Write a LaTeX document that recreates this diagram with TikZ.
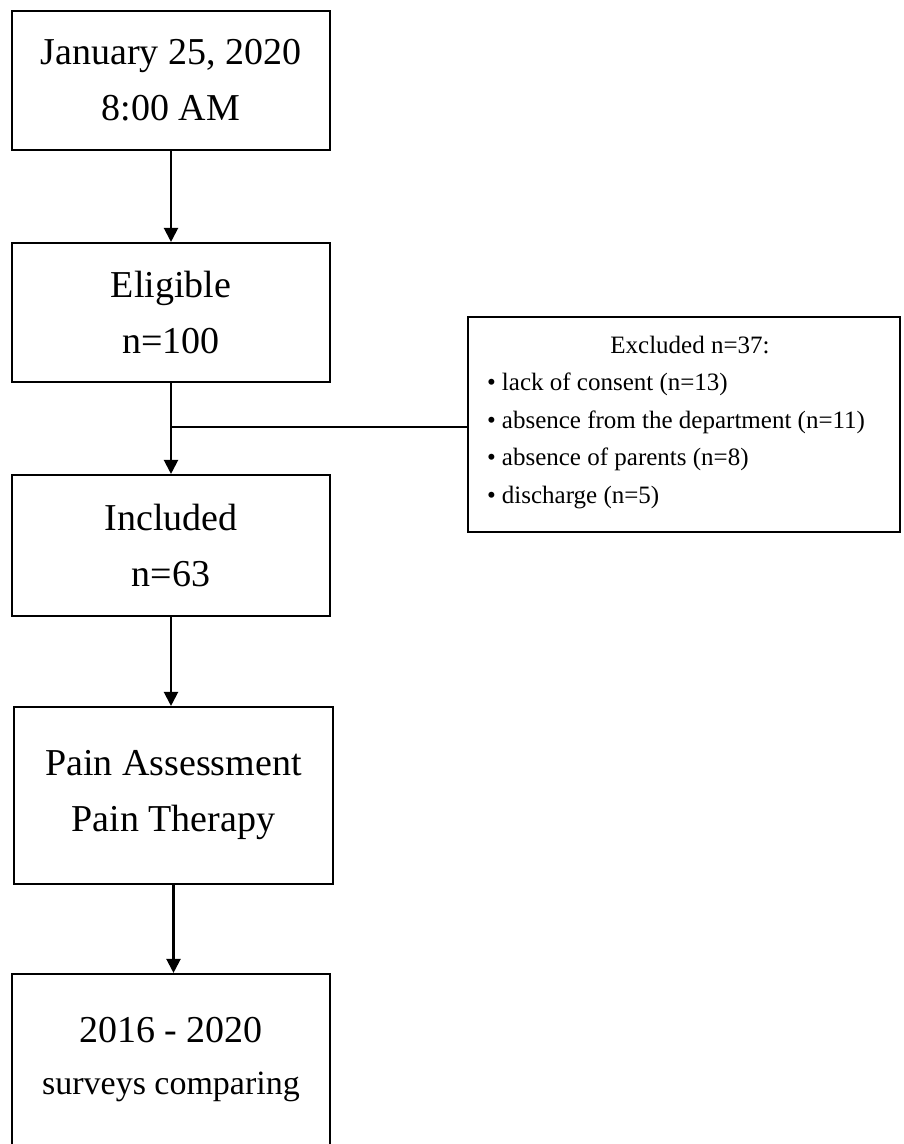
\documentclass[tikz,border=0pt]{standalone}
\usepackage{fontspec}
\setmainfont{Liberation Serif}
\usetikzlibrary{arrows.meta}

\begin{document}
\begin{tikzpicture}[x=1pt, y=1pt,
		every node/.style={text=black, inner sep=0pt},
		stagebox/.style={draw, line width=2.1pt, minimum width=318pt, align=center, font=\fontsize{38}{56}\selectfont},
		flow/.style={line width=2.1pt, -{Triangle[width=14pt, length=14pt]}},
		smalltext/.style={font=\fontsize{25}{37.6}\selectfont}]
		\useasboundingbox (0,0) rectangle (904,-1144);
		\node[stagebox, minimum height=139pt] (start) at (171,-80.5) {January 25, 2020\\8:00 AM};
		\node[stagebox, minimum height=139pt] (eligible) at (171,-312.5) {Eligible\\n=100};
		\draw[flow] (start) -- (eligible);
		\node[stagebox, minimum height=141pt] (included) at (171,-545.5) {Included\\n=63};
		\draw[flow] (eligible) -- (included);
		\node[draw, line width=2.1pt, minimum width=432pt, minimum height=215pt] (excluded) at (684,-424.5) {};
		\coordinate (split) at (171,-427);
		\draw[line width=2.1pt] (split) -- (split -| excluded.west);
		\node[smalltext, anchor=base] (excltitle) at (690,-353) {Excluded n=37:};
		\node[smalltext, align=left, anchor=north west] (excllist) at (487,-372.6) {\textbullet\hspace{6pt}lack of consent (n=13)\\\textbullet\hspace{6pt}absence from the department (n=11)\\\textbullet\hspace{6pt}absence of parents (n=8)\\\textbullet\hspace{6pt}discharge (n=5)};
		\node[stagebox, minimum width=319pt, minimum height=177pt] (pain) at (173.5,-795.5) {Pain Assessment\\Pain Therapy};
		\draw[flow] (included) -- (included.south |- pain.north);
		\node[stagebox, minimum height=172pt, font=\fontsize{38}{52}\selectfont] (surveys) at (171,-1060) {2016 - 2020\\{\fontsize{34}{52}\selectfont surveys comparing}};
		\draw[flow] (pain) -- (pain.south |- surveys.north);
	\end{tikzpicture}
\end{document}
